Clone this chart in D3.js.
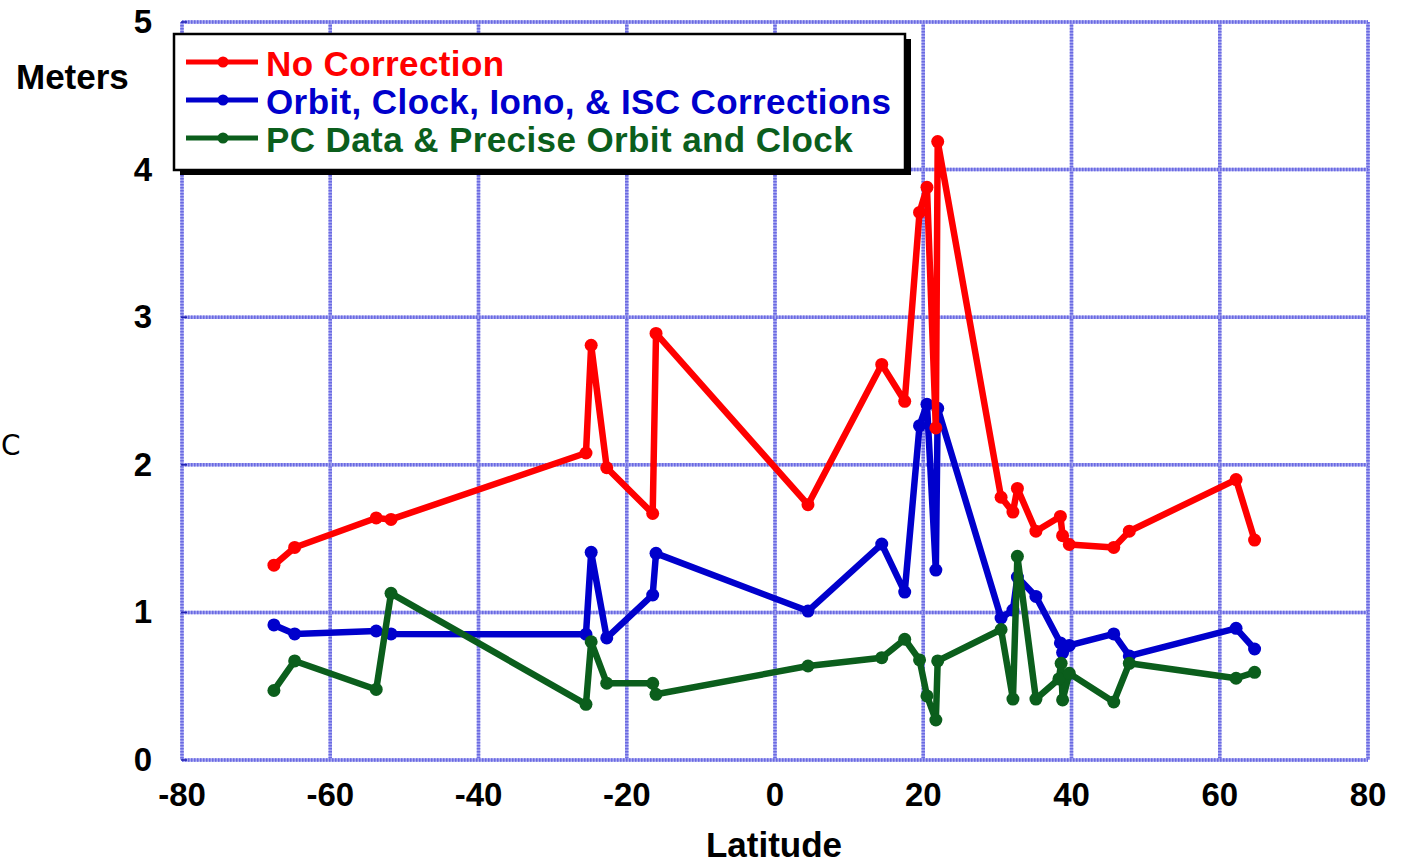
<!DOCTYPE html>
<html>
<head>
<meta charset="utf-8">
<script src="https://cdn.jsdelivr.net/npm/d3@7"></script>
<style>
  html, body { margin: 0; padding: 0; background: #fff; }
  svg { display: block; font-family: "Liberation Sans", Arial, sans-serif; }
</style>
</head>
<body>
<svg id="chart" width="1404" height="863"></svg>
<script>
// ---------------- data ----------------
const seriesNames = ["No Correction", "Orbit, Clock, Iono, & ISC Corrections", "PC Data & Precise Orbit and Clock"];

const latRed = [-67.6, -64.8, -53.8, -51.8, -25.5, -24.8, -22.7, -16.5, -16.05, 4.45, 14.4, 17.5, 19.5, 20.5, 21.7, 21.95,
  30.5, 32.1, 32.7, 35.2, 38.5, 38.8, 39.7, 45.7, 47.8, 62.2, 64.7];
const noCorrection = [1.32, 1.44, 1.64, 1.63, 2.08, 2.81, 1.98, 1.67, 2.89, 1.73, 2.68, 2.43, 3.71, 3.88, 2.25, 4.19,
  1.78, 1.68, 1.84, 1.55, 1.65, 1.52, 1.46, 1.44, 1.55, 1.90, 1.49];

const latBlue = latRed;
const orbitClockIono = [0.915, 0.854, 0.874, 0.854, 0.852, 1.407, 0.827, 1.118, 1.40, 1.009, 1.463, 1.138, 2.265, 2.41, 1.287, 2.383,
  0.962, 1.016, 1.24, 1.108, 0.793, 0.728, 0.776, 0.854, 0.705, 0.892, 0.752];

const latGreen = [-67.6, -64.8, -53.8, -51.8, -25.5, -24.8, -22.7, -16.5, -16.05, 4.45, 14.4, 17.5, 19.5, 20.5, 21.7, 21.95,
  30.5, 32.1, 32.7, 35.2, 38.3, 38.6, 38.8, 39.7, 45.7, 47.8, 62.2, 64.7];
const pcPrecise = [0.471, 0.671, 0.478, 1.129, 0.377, 0.801, 0.52, 0.52, 0.445, 0.637, 0.693, 0.818, 0.678, 0.434, 0.271, 0.671,
  0.884, 0.413, 1.38, 0.413, 0.549, 0.655, 0.407, 0.587, 0.393, 0.655, 0.554, 0.594];

const xTicks = [-80, -60, -40, -20, 0, 20, 40, 60, 80];
const yTicks = [0, 1, 2, 3, 4, 5];
const colors = ["#ff0000", "#0000cc", "#0b5e1c"];

// ---------------- layout ----------------
const svg = d3.select("#chart");
const L = 182, R = 1368, T = 22, B = 760;
const x = d3.scaleLinear().domain([-80, 80]).range([L, R]);
const y = d3.scaleLinear().domain([0, 5]).range([B, T]);

svg.append("rect").attr("width", 1404).attr("height", 863).attr("fill", "#fff");

// gridlines
const grid = svg.append("g");
function gridLine(x1, y1, x2, y2) {
  grid.append("line").attr("x1", x1).attr("y1", y1).attr("x2", x2).attr("y2", y2)
    .attr("stroke", "#a4a4f0").attr("stroke-width", 3.5);
  grid.append("line").attr("x1", x1).attr("y1", y1).attr("x2", x2).attr("y2", y2)
    .attr("stroke", "#6a6ae2").attr("stroke-width", 3.5).attr("stroke-dasharray", "1.5,1.5");
}
xTicks.forEach(t => gridLine(x(t), T, x(t), B));
yTicks.forEach(t => gridLine(L, y(t), R, y(t)));
// small tick marks
yTicks.forEach(t => grid.append("line").attr("x1", L - 1).attr("x2", L + 5).attr("y1", y(t)).attr("y2", y(t))
  .attr("stroke", "#2020b0").attr("stroke-width", 1.5));

// tick labels
svg.append("g").selectAll("text").data(xTicks).join("text")
  .attr("x", d => x(d)).attr("y", 806)
  .attr("text-anchor", "middle").attr("font-size", 33).attr("font-weight", "bold").attr("fill", "#000")
  .text(d => d);
svg.append("g").selectAll("text").data(yTicks).join("text")
  .attr("x", 152).attr("y", d => y(d) + 11)
  .attr("text-anchor", "end").attr("font-size", 33).attr("font-weight", "bold").attr("fill", "#000")
  .text(d => d);

// axis titles
svg.append("text").attr("x", 774).attr("y", 857).attr("text-anchor", "middle")
  .attr("font-size", 35).attr("font-weight", "bold").text("Latitude");
svg.append("text").attr("x", 16).attr("y", 89)
  .attr("font-size", 35).attr("font-weight", "bold").text("Meters");
svg.append("text").attr("x", 1).attr("y", 455)
  .attr("font-size", 28).attr("font-family", "DejaVu Sans, sans-serif").text("C");

// series (blue underneath, then red, then green)
const series = [
  { lat: latRed, val: noCorrection, c: 0 },
  { lat: latBlue, val: orbitClockIono, c: 1 },
  { lat: latGreen, val: pcPrecise, c: 2 }
];
const drawOrder = [1, 0, 2];
const line = d3.line().x(d => x(d[0])).y(d => y(d[1]));
drawOrder.forEach(i => {
  const s = series[i];
  const pts = s.lat.map((la, k) => [la, s.val[k]]);
  const g = svg.append("g");
  g.append("path").attr("d", line(pts)).attr("fill", "none")
    .attr("stroke", colors[s.c]).attr("stroke-width", 6.5).attr("stroke-linejoin", "round");
  g.selectAll("circle").data(pts).join("circle")
    .attr("cx", d => x(d[0])).attr("cy", d => y(d[1])).attr("r", 6.5).attr("fill", colors[s.c]);
});

// legend
const lg = svg.append("g");
lg.append("rect").attr("x", 180).attr("y", 39).attr("width", 731).attr("height", 136).attr("fill", "#000");
lg.append("rect").attr("x", 174).attr("y", 34).attr("width", 731).attr("height", 136)
  .attr("fill", "#fff").attr("stroke", "#000").attr("stroke-width", 2.5);
const rowsY = [62, 100, 138];
seriesNames.forEach((name, i) => {
  lg.append("line").attr("x1", 186).attr("x2", 258).attr("y1", rowsY[i]).attr("y2", rowsY[i])
    .attr("stroke", colors[i]).attr("stroke-width", 5);
  lg.append("circle").attr("cx", 223).attr("cy", rowsY[i]).attr("r", 5.5).attr("fill", colors[i]);
  lg.append("text").attr("x", 266).attr("y", rowsY[i] + 14)
    .attr("font-size", 35).attr("font-weight", "bold").attr("letter-spacing", 0.4)
    .attr("fill", colors[i]).text(name);
});
</script>
</body>
</html>
